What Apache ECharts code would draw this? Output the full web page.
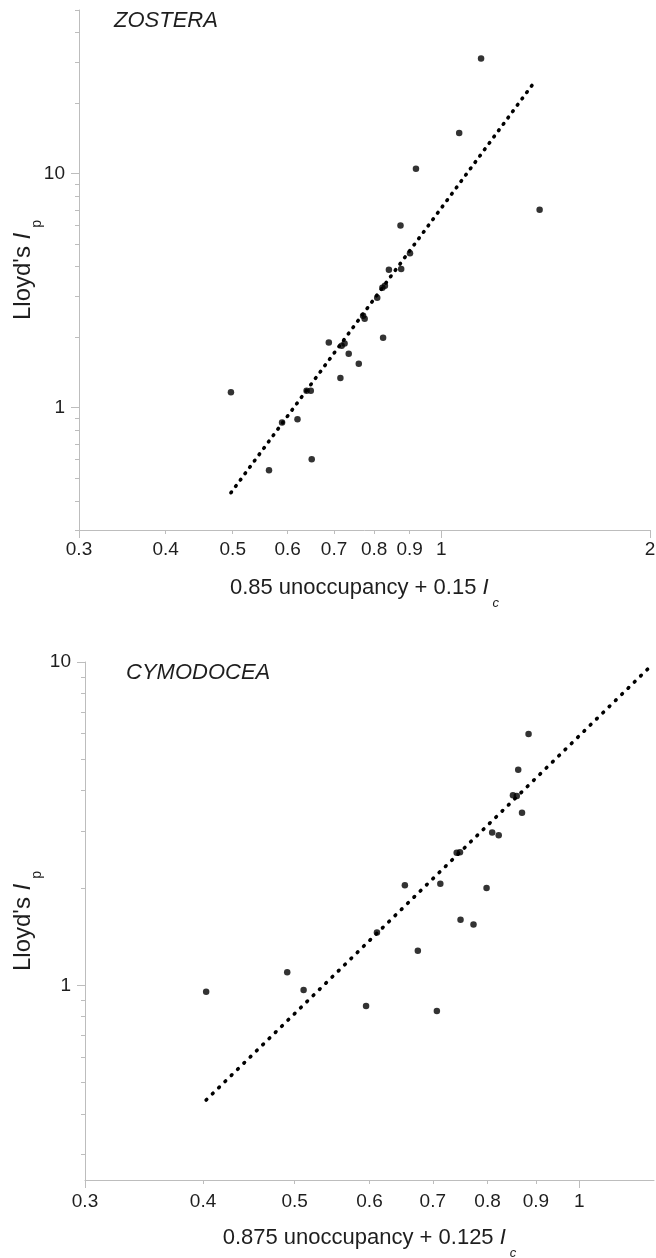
<!DOCTYPE html>
<html>
<head>
<meta charset="utf-8">
<script src="https://cdn.jsdelivr.net/npm/echarts@6/dist/echarts.min.js"></script>
<style>
  html, body { margin: 0; padding: 0; background: #ffffff; }
  #chart { width: 656px; height: 1258px; }
</style>
</head>
<body>
<div id="chart"></div>
<script>
// ---- Zostera: Lloyd's Ip against 0.85 unoccupancy + 0.15 Ic ----
const zosteraX = [1.141, 1.061, 0.919, 1.386, 0.873, 0.901, 0.840, 0.875, 0.829, 0.822, 0.808, 0.771, 0.775,
                  0.688, 0.718, 0.725, 0.735, 0.824, 0.760, 0.715, 0.650, 0.639, 0.648, 0.497, 0.620, 0.589, 0.564];
const zosteraY = [31.0, 14.9, 10.5, 7.0, 6.0, 4.57, 3.88, 3.91, 3.32, 3.25, 2.95, 2.47, 2.40,
                  1.90, 1.84, 1.88, 1.70, 1.99, 1.54, 1.34, 0.602, 1.18, 1.18, 1.164, 0.892, 0.863, 0.540];
// fitted power line, end points
const zosteraFitX = [0.497, 1.369];
const zosteraFitY = [0.433, 25.1];

// ---- Cymodocea: Lloyd's Ip against 0.875 unoccupancy + 0.125 Ic ----
const cymodoceaX = [0.884, 0.862, 0.851, 0.859, 0.870, 0.809, 0.822, 0.742, 0.748, 0.654, 0.713, 0.798, 0.749,
                    0.773, 0.611, 0.675, 0.511, 0.595, 0.707, 0.403, 0.491];
const cymodoceaY = [5.99, 4.64, 3.87, 3.85, 3.42, 2.97, 2.91, 2.57, 2.58, 2.04, 2.06, 2.00, 1.595,
                    1.543, 1.458, 1.28, 0.967, 0.863, 0.833, 0.955, 1.097];
const cymodoceaFitX = [0.403, 1.186];
const cymodoceaFitY = [0.442, 9.61];

// ---- axis ticks and labels ----
const zosteraXLabels = [0.3, 0.4, 0.5, 0.6, 0.7, 0.8, 0.9, 1, 2];
const zosteraXMajor = [0.3, 1, 2];
const zosteraXMinor = [0.4, 0.5, 0.6, 0.7, 0.8, 0.9];
const zosteraYLabels = [1, 10];
const zosteraYMajor = [1, 10];
const zosteraYMinor = [0.3, 0.4, 0.5, 0.6, 0.7, 0.8, 0.9, 2, 3, 4, 5, 6, 7, 8, 9, 20, 30, 40, 50];

const cymodoceaXLabels = [0.3, 0.4, 0.5, 0.6, 0.7, 0.8, 0.9, 1];
const cymodoceaXMajor = [0.3, 1];
const cymodoceaXMinor = [0.4, 0.5, 0.6, 0.7, 0.8, 0.9];
const cymodoceaYLabels = [1, 10];
const cymodoceaYMajor = [1, 10];
const cymodoceaYMinor = [0.3, 0.4, 0.5, 0.6, 0.7, 0.8, 0.9, 2, 3, 4, 5, 6, 7, 8, 9];

const FONT = '"Liberation Sans", Arial, Helvetica, sans-serif';
const AXIS_GREY = '#bdbdbd';
const TEXT = '#1e1e1e';

const pairs = (xs, ys) => xs.map((x, i) => [x, ys[i]]);
const fmt = v => String(+Number(v).toPrecision(3));

function richTitle(size, subSize, subDrop) {
  return {
    t: { fontSize: size, fontFamily: FONT, color: TEXT, verticalAlign: 'top', lineHeight: size + 2 },
    i: { fontSize: size, fontFamily: FONT, color: TEXT, fontStyle: 'italic', verticalAlign: 'top', lineHeight: size + 2 },
    s: { fontSize: subSize, fontFamily: FONT, color: TEXT, fontStyle: 'italic', verticalAlign: 'top',
         lineHeight: subSize + 2, padding: [subDrop, 0, 0, 4] },
    su: { fontSize: subSize, fontFamily: FONT, color: TEXT, verticalAlign: 'top',
          lineHeight: subSize + 2, padding: [subDrop, 0, 0, 5] }
  };
}

// A pair of overlaid log axes per direction: the first carries the line,
// long ticks and labels; the second only the short intermediate ticks.
function logAxes(dim, gridIndex, min, max, labels, major, minor, labelMargin, name, nameGap, rich) {
  const pos = dim === 'x' ? 'bottom' : 'left';
  const main = {
    type: 'log', logBase: 10, gridIndex, min, max, position: pos,
    axisLine: { show: true, onZero: false, lineStyle: { color: AXIS_GREY, width: 1 } },
    axisTick: { show: true, customValues: major, length: 8, inside: false, lineStyle: { color: AXIS_GREY, width: 1 } },
    minorTick: { show: false },
    splitLine: { show: false },
    minorSplitLine: { show: false },
    axisLabel: {
      show: true, customValues: labels, margin: labelMargin, color: TEXT,
      fontSize: 19, fontFamily: FONT, formatter: fmt, hideOverlap: false
    },
    name, nameLocation: 'middle', nameGap, nameMoveOverlap: false,
    nameRotate: dim === 'x' ? 0 : 90,
    nameTextStyle: { rich }
  };
  const minorAxis = {
    type: 'log', logBase: 10, gridIndex, min, max, position: pos,
    axisLine: { show: false, onZero: false },
    axisTick: { show: true, customValues: minor, length: 4, lineStyle: { color: AXIS_GREY, width: 1 } },
    minorTick: { show: false },
    splitLine: { show: false },
    axisLabel: { show: false }
  };
  return [main, minorAxis];
}

const xRich = richTitle(22, 13, 20);
const yRich = richTitle(24, 14, 19);

const option = {
  animation: false,
  backgroundColor: '#ffffff',
  textStyle: { fontFamily: FONT },
  title: [
    { text: 'ZOSTERA', left: 114, top: 10, padding: 0,
      textStyle: { fontSize: 22, fontStyle: 'italic', fontWeight: 'normal', color: TEXT, fontFamily: FONT } },
    { text: 'CYMODOCEA', left: 126, top: 662, padding: 0,
      textStyle: { fontSize: 22, fontStyle: 'italic', fontWeight: 'normal', color: TEXT, fontFamily: FONT } }
  ],
  grid: [
    { left: 79, top: 10, width: 571, height: 520, containLabel: false, outerBoundsMode: 'none' },
    { left: 85, top: 662, width: 569, height: 518, containLabel: false, outerBoundsMode: 'none' }
  ],
  xAxis: [
    ...logAxes('x', 0, 0.3, 2, zosteraXLabels, zosteraXMajor, zosteraXMinor, 10.5,
               '{t|0.85 unoccupancy + 0.15 }{i|I}{s|c}', 47, xRich),
    ...logAxes('x', 1, 0.3, 1.2, cymodoceaXLabels, cymodoceaXMajor, cymodoceaXMinor, 12,
               '{t|0.875 unoccupancy + 0.125 }{i|I}{s|c}', 47, xRich)
  ],
  yAxis: [
    ...logAxes('y', 0, 0.3, 50, zosteraYLabels, zosteraYMajor, zosteraYMinor, 14,
               "{t|Lloyd's }{i|I}{su|p}", 42, yRich),
    ...logAxes('y', 1, 0.25, 10, cymodoceaYLabels, cymodoceaYMajor, cymodoceaYMinor, 14,
               "{t|Lloyd's }{i|I}{su|p}", 48, yRich)
  ],
  series: [
    {
      name: 'Zostera fit', type: 'line', xAxisIndex: 0, yAxisIndex: 0,
      data: pairs(zosteraFitX, zosteraFitY), symbol: 'none', silent: true,
      lineStyle: { color: '#000', width: 3.6, type: [0.8, 7.1], cap: 'round' }
    },
    {
      name: 'Zostera', type: 'scatter', xAxisIndex: 0, yAxisIndex: 0,
      data: pairs(zosteraX, zosteraY), symbol: 'circle', symbolSize: 6.5,
      itemStyle: { color: '#000' }
    },
    {
      name: 'Cymodocea fit', type: 'line', xAxisIndex: 2, yAxisIndex: 2,
      data: pairs(cymodoceaFitX, cymodoceaFitY), symbol: 'none', silent: true,
      lineStyle: { color: '#000', width: 3.6, type: [0.8, 8.0], cap: 'round' }
    },
    {
      name: 'Cymodocea', type: 'scatter', xAxisIndex: 2, yAxisIndex: 2,
      data: pairs(cymodoceaX, cymodoceaY), symbol: 'circle', symbolSize: 6.5,
      itemStyle: { color: '#000' }
    }
  ]
};

const chart = echarts.init(document.getElementById('chart'), null, { renderer: 'canvas' });
chart.setOption(option);
</script>
</body>
</html>
